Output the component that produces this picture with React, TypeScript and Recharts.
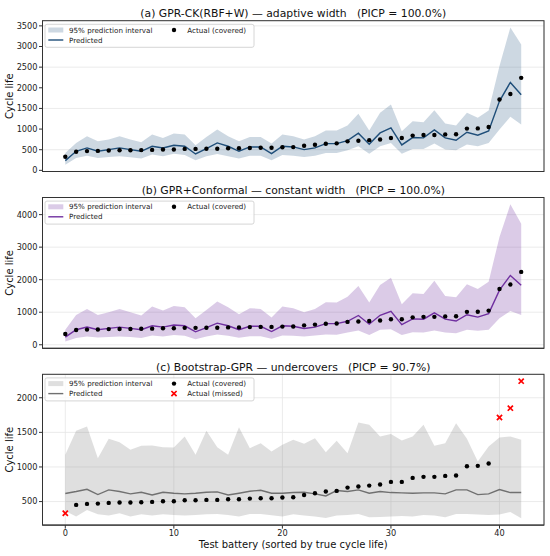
import React from "react"
import { ComposedChart, Area, Line, Scatter, XAxis, YAxis, CartesianGrid } from "recharts"

// test batteries, sorted by true cycle life
const battery = Array.from({ length: 43 }, (_, i) => i)

const actual = [
  331, 452, 466, 471, 481, 486, 486, 490, 495, 505, 505, 519, 519, 524, 524, 534, 534, 543, 548, 548, 558, 563,
  596, 620, 645, 654, 702, 717, 731, 746, 784, 784, 842, 857, 857, 871, 876, 1011, 1016, 1050, 1715, 1850, 2240,
]

// GPR mean (same for panels a and b)
const gprPred = [
  235, 462, 543, 462, 502, 543, 502, 462, 583, 543, 608, 583, 397, 527, 664, 583, 462, 567, 567, 405, 583, 567,
  502, 543, 648, 648, 721, 899, 632, 907, 1029, 616, 794, 786, 980, 786, 729, 923, 851, 956, 1677, 2130, 1831,
]

const ckLo = [
  138, 300, 356, 300, 324, 340, 316, 284, 381, 340, 405, 373, 243, 340, 397, 340, 284, 356, 356, 243, 373, 356,
  324, 356, 421, 421, 486, 583, 405, 583, 664, 405, 518, 518, 648, 502, 486, 624, 583, 664, 988, 1296, 1110,
]
const ckHi = [
  421, 664, 826, 705, 745, 826, 745, 680, 867, 786, 891, 867, 608, 810, 988, 826, 705, 810, 810, 648, 867, 826,
  745, 826, 964, 964, 1086, 1369, 964, 1393, 1596, 948, 1191, 1167, 1458, 1134, 1086, 1393, 1272, 1450, 2527,
  3459, 3046,
]

const cfLo = [
  102, 204, 255, 224, 235, 255, 235, 204, 286, 255, 296, 275, 173, 255, 316, 275, 214, 265, 265, 184, 286, 275,
  255, 286, 316, 306, 377, 439, 296, 459, 479, 296, 388, 377, 439, 377, 357, 459, 428, 459, 816, 1040, 918,
]
const cfHi = [
  459, 918, 1102, 918, 1000, 1102, 1000, 898, 1173, 1051, 1194, 1153, 816, 1071, 1326, 1153, 939, 1122, 1102,
  837, 1173, 1122, 1000, 1102, 1306, 1296, 1479, 1806, 1296, 1836, 2060, 1245, 1581, 1561, 1969, 1500, 1459,
  1857, 1714, 1938, 3315, 4315, 3723,
]

const bsPred = [
  616, 645, 678, 601, 669, 645, 611, 635, 596, 635, 621, 611, 621, 635, 640, 596, 621, 649, 664, 621, 621, 630,
  635, 611, 582, 659, 645, 669, 621, 645, 630, 625, 621, 625, 625, 611, 669, 669, 601, 611, 674, 630, 630,
]
const bsLo = [
  365, 283, 380, 317, 298, 331, 283, 317, 298, 317, 307, 298, 307, 317, 322, 307, 283, 322, 322, 302, 283, 317,
  298, 283, 264, 298, 307, 322, 273, 278, 283, 293, 283, 307, 298, 273, 322, 322, 312, 307, 312, 351, 259,
]
const bsHi = [
  1175, 1522, 1585, 1127, 1406, 1358, 1247, 1305, 1310, 1286, 1281, 1440, 1175, 1522, 1286, 1175, 1575, 1271,
  1344, 1223, 1320, 1392, 1334, 1416, 1213, 1378, 1199, 1642, 1609, 1440, 1478, 1382, 1440, 1609, 1305, 1344,
  1633, 1406, 1078, 1296, 1425, 1440, 1392,
]

const xTicks = [0, 10, 20, 30, 40]
const yTicksA = [0, 500, 1000, 1500, 2000, 2500, 3000, 3500]
const yTicksB = [0, 1000, 2000, 3000, 4000]
const yTicksC = [500, 1000, 1500, 2000]

const FONT = "DejaVu Sans"
const W = 550
const H = 556
const PLOT_L = 42.5
const PLOT_R = 544

const buildRows = (pred: number[], lo: number[], hi: number[]) =>
  battery.map((x, i) => ({ x, band: [lo[i], hi[i]], pred: pred[i] }))

const buildPoints = (lo: number[], hi: number[], inside: boolean) =>
  battery
    .map((x, i) => ({ x, y: actual[i], ok: actual[i] >= lo[i] && actual[i] <= hi[i] }))
    .filter((p) => p.ok === inside)

const Dot = (p: any) => <circle cx={p.cx} cy={p.cy} r={2.2} fill="#000" />
const Cross = (p: any) => (
  <g stroke="#ff0000" strokeWidth={1.7}>
    <line x1={p.cx - 2.6} y1={p.cy - 2.6} x2={p.cx + 2.6} y2={p.cy + 2.6} />
    <line x1={p.cx - 2.6} y1={p.cy + 2.6} x2={p.cx + 2.6} y2={p.cy - 2.6} />
  </g>
)

type PanelProps = {
  top: number
  bottom: number
  pred: number[]
  lo: number[]
  hi: number[]
  domain: [number, number]
  yTicks: number[]
  bandColor: string
  lineColor: string
  showX: boolean
}

function Panel({ top, bottom, pred, lo, hi, domain, yTicks, bandColor, lineColor, showX }: PanelProps) {
  const rows = buildRows(pred, lo, hi)
  const covered = buildPoints(lo, hi, true)
  const missed = buildPoints(lo, hi, false)
  const tickStyle = { fontSize: 8.2, fill: "#222", fontFamily: FONT }
  return (
    <div style={{ position: "absolute", left: 0, top: 0 }}>
      <ComposedChart
        width={W}
        height={H}
        data={rows}
        margin={{ top, right: W - PLOT_R, bottom: H - bottom - 20, left: 0 }}
      >
        <CartesianGrid stroke="#e6e6e6" strokeWidth={0.8} />
        <XAxis
          dataKey="x"
          type="number"
          domain={[-2.1, 44.1]}
          ticks={xTicks}
          allowDataOverflow
          height={20}
          stroke="#333"
          tickSize={3.5}
          tickMargin={1.5}
          tick={showX ? tickStyle : false}
        />
        <YAxis
          type="number"
          domain={domain}
          ticks={yTicks}
          allowDataOverflow
          width={PLOT_L}
          stroke="#333"
          tickSize={3.5}
          tickMargin={1.5}
          tick={tickStyle}
        />
        <Area
          dataKey="band"
          type="linear"
          fill={bandColor}
          fillOpacity={0.25}
          stroke="none"
          isAnimationActive={false}
        />
        <Line
          dataKey="pred"
          type="linear"
          stroke={lineColor}
          strokeWidth={1.4}
          dot={false}
          isAnimationActive={false}
        />
        <Scatter data={covered} dataKey="y" shape={Dot} isAnimationActive={false} />
        {missed.length > 0 && <Scatter data={missed} dataKey="y" shape={Cross} isAnimationActive={false} />}
      </ComposedChart>
    </div>
  )
}

function Decor({
  top,
  bottom,
  title,
  bandColor,
  lineColor,
  hasMissed,
}: {
  top: number
  bottom: number
  title: string
  bandColor: string
  lineColor: string
  hasMissed: boolean
}) {
  const r1 = top + 9.3
  const r2 = top + 19.3
  const lt = { fontSize: 7.15, fill: "#222", fontFamily: FONT }
  return (
    <g>
      <rect x={PLOT_L} y={top} width={PLOT_R - PLOT_L} height={bottom - top} fill="none" stroke="#333" strokeWidth={1} />
      <text x={(PLOT_L + PLOT_R) / 2} y={top - 7} textAnchor="middle" dominantBaseline="central" fontSize={10.8} fill="#111" fontFamily={FONT} style={{ whiteSpace: "pre" }}>
        {title}
      </text>
      <text
        x={10}
        y={(top + bottom) / 2}
        transform={`rotate(-90 10 ${(top + bottom) / 2})`}
        textAnchor="middle"
        dominantBaseline="central"
        fontSize={10}
        fill="#111"
        fontFamily={FONT}
      >
        Cycle life
      </text>
      <rect x={45} y={top + 3.6} width={209} height={23} rx={2} fill="#fff" fillOpacity={0.8} stroke="#cccccc" strokeWidth={0.8} />
      <rect x={48.3} y={r1 - 2.5} width={15} height={5} fill={bandColor} fillOpacity={0.25} />
      <text x={69} y={r1} dominantBaseline="central" {...lt}>
        95% prediction interval
      </text>
      <line x1={48.3} x2={63.3} y1={r2} y2={r2} stroke={lineColor} strokeWidth={1.4} />
      <text x={69} y={r2} dominantBaseline="central" {...lt}>
        Predicted
      </text>
      <circle cx={174} cy={r1} r={2.2} fill="#000" />
      <text x={187.3} y={r1} dominantBaseline="central" {...lt}>
        Actual (covered)
      </text>
      {hasMissed && (
        <g>
          <Cross cx={174} cy={r2} />
          <text x={187.3} y={r2} dominantBaseline="central" {...lt}>
            Actual (missed)
          </text>
        </g>
      )}
    </g>
  )
}

const panelA = { top: 20.7, bottom: 171.5 }
const panelB = { top: 197.5, bottom: 348.3 }
const panelC = { top: 374.3, bottom: 525.1 }

export default function App() {
  return (
    <div style={{ position: "absolute", left: 0, top: 0, width: W, height: H, background: "#fff", overflow: "hidden" }}>
      <Panel {...panelA} pred={gprPred} lo={ckLo} hi={ckHi} domain={[-28, 3625]} yTicks={yTicksA} bandColor="#36648b" lineColor="#1f4e79" showX={false} />
      <Panel {...panelB} pred={gprPred} lo={cfLo} hi={cfHi} domain={[-109, 4526]} yTicks={yTicksB} bandColor="#7030a0" lineColor="#7030a0" showX={false} />
      <Panel {...panelC} pred={bsPred} lo={bsLo} hi={bsHi} domain={[160, 2339]} yTicks={yTicksC} bandColor="#808080" lineColor="#707070" showX={true} />
      <svg width={W} height={H} style={{ position: "absolute", left: 0, top: 0, pointerEvents: "none" }}>
        <Decor {...panelA} title="(a) GPR-CK(RBF+W) — adaptive width   (PICP = 100.0%)" bandColor="#36648b" lineColor="#1f4e79" hasMissed={false} />
        <Decor {...panelB} title="(b) GPR+Conformal — constant width   (PICP = 100.0%)" bandColor="#7030a0" lineColor="#7030a0" hasMissed={false} />
        <Decor {...panelC} title="(c) Bootstrap-GPR — undercovers   (PICP = 90.7%)" bandColor="#808080" lineColor="#707070" hasMissed={true} />
        <text x={(PLOT_L + PLOT_R) / 2} y={544} textAnchor="middle" dominantBaseline="central" fontSize={10} fill="#111" fontFamily={FONT}>
          Test battery (sorted by true cycle life)
        </text>
      </svg>
    </div>
  )
}
